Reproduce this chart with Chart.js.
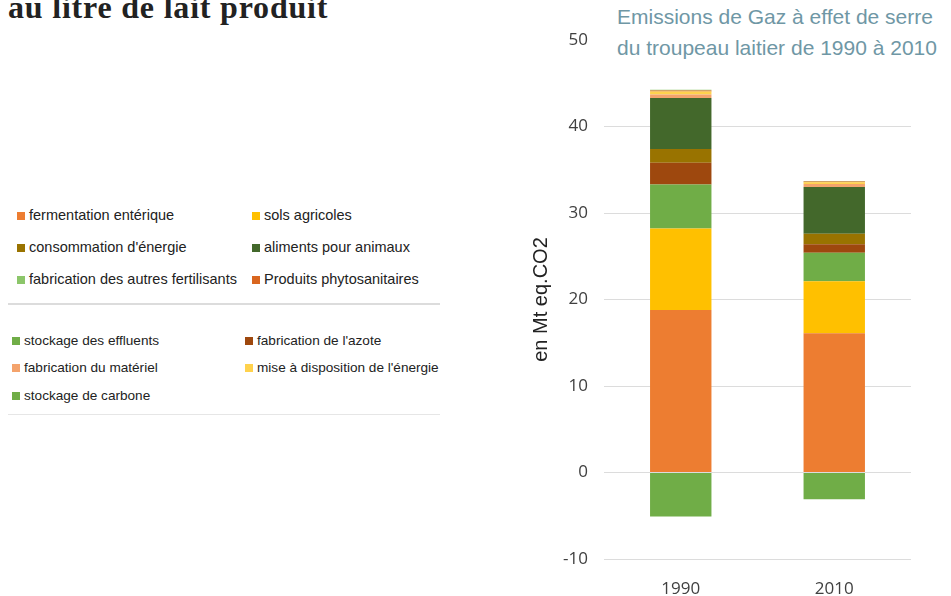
<!DOCTYPE html>
<html>
<head>
<meta charset="utf-8">
<script src="https://cdn.jsdelivr.net/npm/chart.js@4"></script>
<style>
  body { margin: 0; width: 951px; height: 596px; background: #fff; position: relative; overflow: hidden; }
  .cut-title { position: absolute; left: 8px; top: -9px; font-family: "Liberation Serif", serif; font-weight: bold; font-size: 32px; line-height: 32px; letter-spacing: 0.8px; color: #222; white-space: nowrap; }
  .chart-title { position: absolute; left: 617px; top: 1px; font-family: "Liberation Sans", Arial, sans-serif; font-size: 21px; line-height: 31px; color: #6f97a5; white-space: nowrap; background: #fff; }
  .legend { position: absolute; left: 8px; width: 432px; font-family: "Liberation Sans", Arial, sans-serif; color: #222; }
  .legend .item { position: absolute; white-space: nowrap; }
  .legend .sw { display: inline-block; width: 8px; height: 8px; margin-right: 4px; vertical-align: 0px; }
  #block1 { top: 200px; height: 103px; border-bottom: 2px solid #dcdcdc; font-size: 14.5px; }
  #block2 { top: 305px; height: 109px; border-bottom: 1px solid #e6e6e6; font-size: 13.6px; }
  #wrap { position: absolute; left: 500px; top: 0; width: 451px; height: 596px; }
</style>
</head>
<body>
<div class="cut-title">au litre de lait produit</div>
<div class="legend" id="block1"></div>
<div class="legend" id="block2"></div>
<div id="wrap"><canvas id="myChart" width="451" height="596"></canvas></div>
<div class="chart-title">Emissions de Gaz à effet de serre<br>du troupeau laitier de 1990 à 2010</div>
<script>
var years = ["1990", "2010"];

// stacked from bottom to top
var seriesNames = [
  "fermentation entérique",
  "sols agricoles",
  "stockage des effluents",
  "fabrication de l'azote",
  "consommation d'énergie",
  "aliments pour animaux",
  "fabrication du matériel",
  "mise à disposition de l'énergie",
  "Produits phytosanitaires",
  "fabrication des autres fertilisants",
  "stockage de carbone",
];
var seriesValues = [
  [18.8, 16.1],
  [9.4, 6.0],
  [5.1, 3.3],
  [2.5, 1.0],
  [1.6, 1.2],
  [5.9, 5.4],
  [0.4, 0.35],
  [0.35, 0.2],
  [0.1, 0.1],
  [0.1, 0.05],
  [-5.1, -3.1],
];
var seriesColors = [
  "#ed7d31",
  "#ffc000",
  "#70ad47",
  "#9e480e",
  "#997300",
  "#43682b",
  "#f4a36c",
  "#ffd24d",
  "#d9661f",
  "#8cc66a",
  "#70ad47",
];

var yTicks = { min: -10, max: 50, step: 10 };
var yTitle = "en Mt eq.CO2";

// legend layout, two boxes of two columns
var legendBlock1 = [
  "fermentation entérique", "sols agricoles",
  "consommation d'énergie", "aliments pour animaux",
  "fabrication des autres fertilisants", "Produits phytosanitaires",
];
var legendBlock2 = [
  "stockage des effluents", "fabrication de l'azote",
  "fabrication du matériel", "mise à disposition de l'énergie",
  "stockage de carbone",
];

function buildLegend(id, names, rowsY, colX) {
  var box = document.getElementById(id);
  names.forEach(function (name, i) {
    var idx = seriesNames.indexOf(name);
    var el = document.createElement("div");
    el.className = "item";
    el.style.left = colX[i % 2] + "px";
    el.style.top = rowsY[Math.floor(i / 2)] + "px";
    el.innerHTML = '<span class="sw" style="background:' + seriesColors[idx] + '"></span>' + name;
    box.appendChild(el);
  });
}
buildLegend("block1", legendBlock1, [7, 39, 71], [9, 244]);
buildLegend("block2", legendBlock2, [28, 55, 83], [4, 237]);

var datasets = seriesNames.map(function (name, i) {
  return {
    label: name,
    data: seriesValues[i],
    backgroundColor: seriesColors[i],
    borderWidth: 0,
    barPercentage: 0.4,
    categoryPercentage: 1,
  };
});

var ctx = document.getElementById("myChart").getContext("2d");
var myChart = new Chart(ctx, {
  type: "bar",
  data: { labels: years, datasets: datasets },
  options: {
    responsive: false,
    animation: false,
    layout: { padding: { left: 25, right: 40, top: 40, bottom: 0 } },
    plugins: { legend: { display: false }, tooltip: { enabled: false } },
    scales: {
      x: {
        stacked: true,
        afterFit: function (scale) { scale.height = 37; },
        grid: { display: false, drawTicks: false },
        border: { display: false },
        ticks: { padding: 20, color: "#404040", font: { family: "Open Sans", size: 17 } },
      },
      y: {
        stacked: true,
        min: yTicks.min,
        max: yTicks.max,
        afterFit: function (scale) { scale.width = 79; },
        grid: {
          drawTicks: false,
          color: function (c) { return c.tick && c.tick.value === yTicks.max ? "rgba(0,0,0,0)" : "#dcdcdc"; },
        },
        border: { display: false },
        ticks: { stepSize: yTicks.step, padding: 16, color: "#404040", font: { family: "Open Sans", size: 17 } },
        title: { display: true, text: yTitle, color: "#222", font: { family: "Liberation Sans", size: 20 } },
      },
    },
  },
});
</script>
</body>
</html>
